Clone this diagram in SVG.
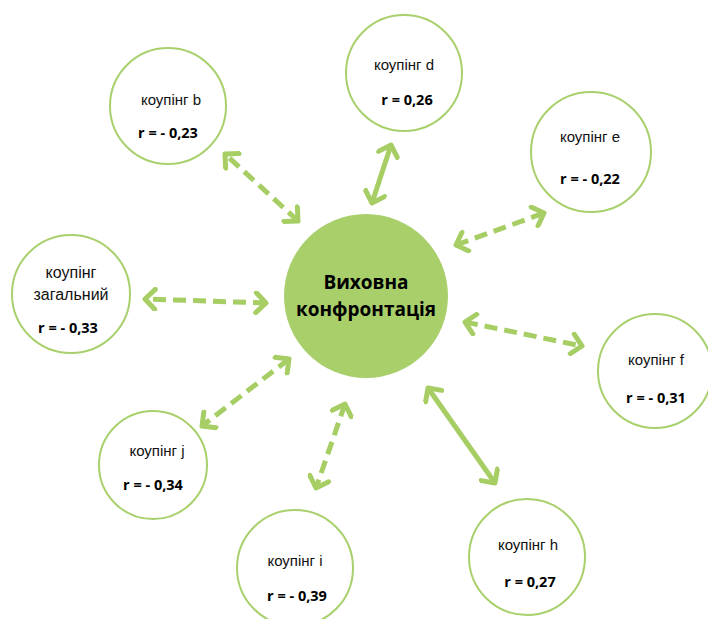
<svg xmlns="http://www.w3.org/2000/svg" width="708" height="619" viewBox="0 0 708 619">
<defs>
<style>
.node{fill:#fff;stroke:#a8d06c;stroke-width:2}
.hub{fill:#a8cf6a;stroke:none}
.lbl{font-family:"Liberation Sans",Arial,sans-serif;font-size:15px;fill:#111;text-anchor:middle}
.big{font-size:16px}
.val{font-family:"Open Sans","Noto Sans",sans-serif;font-weight:bold;font-size:14.5px;fill:#000;text-anchor:middle}
.hubt{font-family:"Open Sans","Noto Sans",sans-serif;font-weight:bold;font-size:19px;fill:#000;text-anchor:middle}
.conn{stroke:#a6ce64;stroke-width:5;fill:none;marker-start:url(#chev);marker-end:url(#chev)}
.dash{stroke-dasharray:13 7}
</style>
<marker id="chev" viewBox="-14 -12 18 24" refX="0" refY="0" markerUnits="userSpaceOnUse" markerWidth="18" markerHeight="24" orient="auto-start-reverse">
<path d="M -10 -10 L 0 0 L -10 10" fill="none" stroke="#a6ce64" stroke-width="5" stroke-linecap="round" stroke-linejoin="round"/>
</marker>
</defs>
<g id="connectors">
<line class="conn dash" x1="298" y1="221" x2="225" y2="154"/>
<line class="conn" x1="372" y1="203" x2="391" y2="145"/>
<line class="conn dash" x1="456" y1="245" x2="544" y2="213"/>
<line class="conn dash" x1="266" y1="303" x2="145" y2="299"/>
<line class="conn dash" x1="465" y1="322" x2="582" y2="346"/>
<line class="conn dash" x1="289" y1="359" x2="202" y2="426"/>
<line class="conn dash" x1="345" y1="404" x2="316" y2="488"/>
<line class="conn" x1="428" y1="388" x2="495" y2="483"/>
</g>
<g id="hub">
<circle class="hub" cx="366" cy="296" r="82"/>
<text class="hubt" x="366" y="289">Виховна</text>
<text class="hubt" x="366" y="316">конфронтація</text>
</g>
<g id="node-b">
<circle class="node" cx="168" cy="106" r="58"/>
<text class="lbl" x="171" y="105">коупінг b</text>
<text class="val" x="168" y="138">r = - 0,23</text>
</g>
<g id="node-d">
<circle class="node" cx="404" cy="73" r="58"/>
<text class="lbl" x="404" y="70">коупінг d</text>
<text class="val" x="407" y="105">r = 0,26</text>
</g>
<g id="node-e">
<circle class="node" cx="591" cy="152" r="60"/>
<text class="lbl" x="590" y="142">коупінг e</text>
<text class="val" x="590" y="184">r = - 0,22</text>
</g>
<g id="node-general">
<circle class="node" cx="71" cy="294" r="59"/>
<text class="lbl big" x="71" y="278">коупінг</text>
<text class="lbl big" x="71" y="300">загальний</text>
<text class="val" x="68" y="333">r = - 0,33</text>
</g>
<g id="node-f">
<circle class="node" cx="655" cy="371" r="57"/>
<text class="lbl" x="656" y="365">коупінг f</text>
<text class="val" x="656" y="403">r = - 0,31</text>
</g>
<g id="node-j">
<circle class="node" cx="153" cy="465" r="54"/>
<text class="lbl" x="157" y="456">коупінг j</text>
<text class="val" x="153" y="490">r = - 0,34</text>
</g>
<g id="node-i">
<circle class="node" cx="295" cy="568" r="58"/>
<text class="lbl" x="295" y="566">коупінг i</text>
<text class="val" x="297" y="601">r = - 0,39</text>
</g>
<g id="node-h">
<circle class="node" cx="527" cy="557" r="58"/>
<text class="lbl" x="528" y="550">коупінг h</text>
<text class="val" x="530" y="587">r = 0,27</text>
</g>
</svg>
